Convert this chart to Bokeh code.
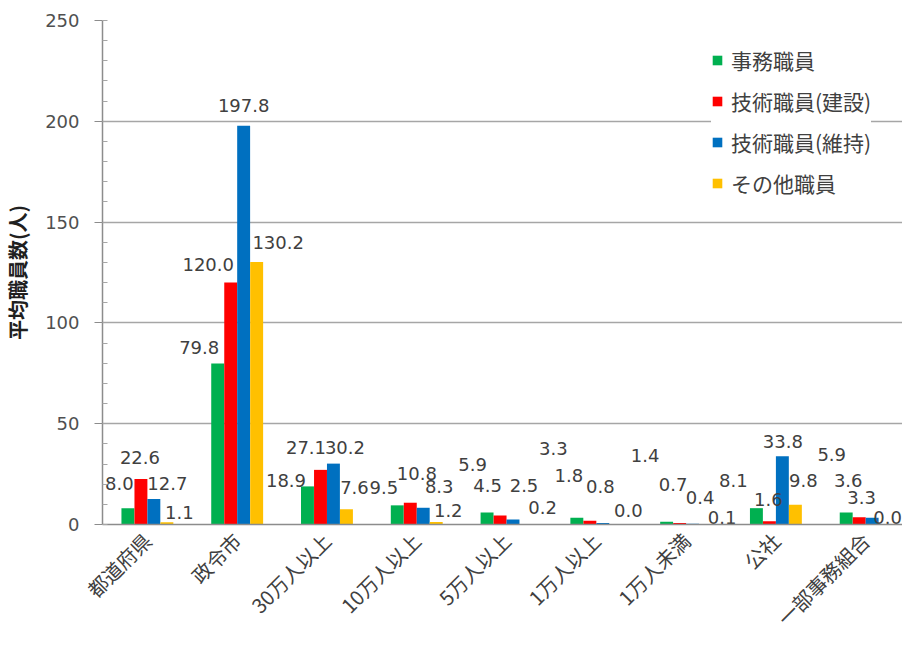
import numpy as np
from bokeh.plotting import figure
from bokeh.models import (ColumnDataSource, Range1d, FixedTicker, SingleIntervalTicker,
                          CustomJSTickFormatter)
from bokeh.transform import dodge
from bokeh.core.properties import value
from bokeh.embed import file_html
from bokeh.resources import INLINE

# ---- data ----
categories = ["都道府県", "政令市", "30万人以上", "10万人以上", "5万人以上",
              "1万人以上", "1万人未満", "公社", "一部事務組合"]
series_names = ["事務職員", "技術職員(建設)", "技術職員(維持)", "その他職員"]
jimu = [8.0, 79.8, 18.9, 9.5, 5.9, 3.3, 1.4, 8.1, 5.9]
gijutsu_kensetsu = [22.6, 120.0, 27.1, 10.8, 4.5, 1.8, 0.7, 1.6, 3.6]
gijutsu_iji = [12.7, 197.8, 30.2, 8.3, 2.5, 0.8, 0.4, 33.8, 3.3]
sonota = [1.1, 130.2, 7.6, 1.2, 0.2, 0.0, 0.1, 9.8, 0.0]

# ---- styling / layout (label nudges in px, relative to bar top centre) ----
colors = ["#00B050", "#FF0000", "#0070C0", "#FFC000"]
bar_offsets = [-0.217, -0.072, 0.072, 0.217]
bar_width = 0.144
label_dx = [
    [-8.5, -18.5, -21.5, -13.5, -14.5, -23.5, -21.5, -23, -14.5],
    [-1, -22.5, -14.5, 6.5, -12.5, -21, -6.5, -1, -11],
    [13.5, 0, 11.5, 16, 11, -2.5, 7.5, 0.5, -10.5],
    [12.5, 21.5, 8, 12, 16.5, 12.5, 16.5, 8, 2.5],
]
label_dy = [
    [-24.5, -16.5, -6, -18, -48.5, -69, -66, -28, -58.5],
    [-21, -18.5, -22, -29, -30, -45, -39, -22, -36.7],
    [-15, -20, -16, -21, -34, -36, -25.7, -14.5, -20.8],
    [-10, -20, -22, -11.5, -17, -14.5, -7, -24, -7.5],
]

all_series = [jimu, gijutsu_kensetsu, gijutsu_iji, sonota]
x_pos = [i + 0.5 for i in range(len(categories))]

data = dict(x=x_pos, cat=categories)
for k, s in enumerate(all_series):
    data[f"v{k}"] = s
    data[f"t{k}"] = [f"{v:.1f}" for v in s]
    data[f"dx{k}"] = label_dx[k]
    data[f"dy{k}"] = label_dy[k]
source = ColumnDataSource(data)

p = figure(width=902, height=645,
           x_range=Range1d(0, 8.91), y_range=Range1d(0, 250),
           output_backend="svg", toolbar_location=None,
           min_border_left=100, min_border_right=0,
           min_border_top=20, min_border_bottom=121)
p.outline_line_color = None
p.background_fill_color = "white"

num_font = "DejaVu Sans"
cjk_font = "Noto Sans CJK JP"
text_col = "#404040"

for k in range(4):
    p.vbar(x=dodge("x", bar_offsets[k], range=p.x_range), top=f"v{k}",
           width=bar_width, source=source, fill_color=colors[k],
           line_color=None, legend_label=series_names[k])

for k in range(4):
    p.text(x=dodge("x", bar_offsets[k], range=p.x_range), y=f"v{k}",
           text=f"t{k}", x_offset=f"dx{k}", y_offset=f"dy{k}",
           source=source, text_align="center", text_baseline="middle",
           text_font=value(num_font), text_font_size="18px", text_color=text_col)

# grid
p.xgrid.visible = False
p.ygrid.ticker = FixedTicker(ticks=[50, 100, 150, 200])
p.ygrid.grid_line_color = "#A6A6A6"
p.ygrid.grid_line_width = 1.5

# y axis
ya = p.yaxis[0]
ya.ticker = SingleIntervalTicker(interval=50, num_minor_ticks=5)
ya.axis_line_color = "#8C8C8C"
ya.axis_line_width = 1.5
ya.major_tick_line_color = "#8C8C8C"
ya.major_tick_out = 8
ya.major_tick_in = 0
ya.minor_tick_line_color = "#A6A6A6"
ya.minor_tick_in = 5
ya.minor_tick_out = 0
ya.major_label_text_font = num_font
ya.major_label_text_font_size = "18px"
ya.major_label_text_color = "#505050"
ya.major_label_standoff = 15
ya.axis_label = "平均職員数(人)"
ya.axis_label_text_font = cjk_font
ya.axis_label_text_font_style = "bold"
ya.axis_label_text_font_size = "20px"
ya.axis_label_text_color = "#202020"
ya.axis_label_standoff = 10

# x axis
xa = p.xaxis[0]
xa.ticker = FixedTicker(ticks=x_pos)
xa.formatter = CustomJSTickFormatter(args=dict(cats=categories),
                                     code="return cats[Math.floor(tick)] || '';")
xa.axis_line_color = "#8C8C8C"
xa.axis_line_width = 1.5
xa.major_tick_line_color = None
xa.minor_tick_line_color = None
xa.major_label_orientation = np.pi / 4
xa.major_label_text_font = cjk_font
xa.major_label_text_font_size = "20px"
xa.major_label_text_color = text_col
xa.major_label_standoff = 6

# legend
lg = p.legend[0]
lg.location = (609, 326)
lg.border_line_color = None
lg.background_fill_color = "white"
lg.background_fill_alpha = 1.0
lg.glyph_width = 12
lg.glyph_height = 12
lg.label_height = 29
lg.spacing = 11
lg.padding = 10
lg.label_standoff = 8
lg.label_text_font = cjk_font
lg.label_text_font_size = "21px"
lg.label_text_color = text_col
lg.margin = 0

open("out.html", "w").write(file_html(p, INLINE))
